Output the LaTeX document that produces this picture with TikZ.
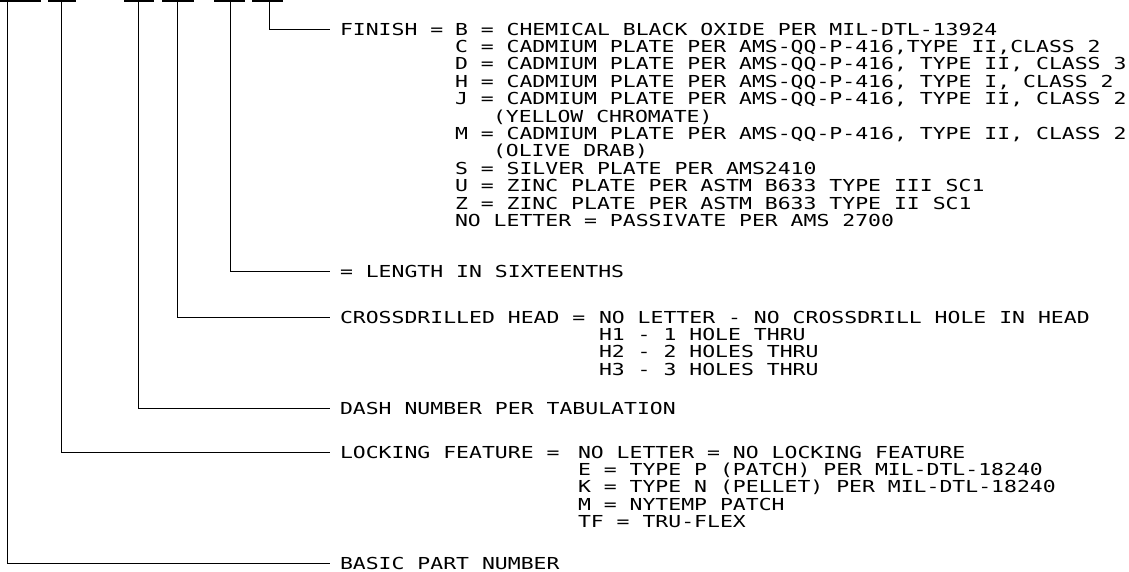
\documentclass[tikz,border=0pt]{standalone}
\usepackage{fontspec}
\newfontfamily\cadfont[FakeStretch=1.3]{DejaVu Sans Mono}

\tikzset{
    part bar/.style = {
        line width=2pt,
    },
    leader/.style = {
        line width=0.8pt,
        shorten >=10pt,
    },
    callout/.style = {
        anchor=west,
        inner sep=0,
        outer sep=0,
        text height=12pt,
        text depth=0pt,
        font=\cadfont\fontsize{16.5}{17.4}\selectfont,
    },
}
\def\rowgap{17.4}
\def\labelx{340}
\def\finx{455}
\def\subx{599}
\def\lockx{578}

\begin{document}
\begin{tikzpicture}[x=1pt, y=-1pt]
    \useasboundingbox (0,0) rectangle (1129,571);

    % part number fields
    \foreach \xa/\xb/\xm [count=\n] in {
        0/41/7,
        48/76/61,
        124/154/138,
        162/194/177,
        214/245/230,
        252/283/269
    } {
        \draw[part bar] (\xa,1) -- (\xb,1);
        \coordinate (f\n) at (\xm,1);
    }

    % finish
    \node[callout] (finish) at (\labelx,29) {FINISH =};
    \node[callout] (fin0) at (\finx,29) {B = CHEMICAL BLACK OXIDE PER MIL-DTL-13924};
    \foreach \xo/\txt [count=\i] in {
        0/{C = CADMIUM PLATE PER AMS-QQ-P-416,TYPE II,CLASS 2},
        0/{D = CADMIUM PLATE PER AMS-QQ-P-416, TYPE II, CLASS 3},
        0/{H = CADMIUM PLATE PER AMS-QQ-P-416, TYPE I, CLASS 2},
        0/{J = CADMIUM PLATE PER AMS-QQ-P-416, TYPE II, CLASS 2},
        38/{(YELLOW CHROMATE)},
        0/{M = CADMIUM PLATE PER AMS-QQ-P-416, TYPE II, CLASS 2},
        38/{(OLIVE DRAB)},
        0/{S = SILVER PLATE PER AMS2410},
        0/{U = ZINC PLATE PER ASTM B633 TYPE III SC1},
        0/{Z = ZINC PLATE PER ASTM B633 TYPE II SC1},
        0/{NO LETTER = PASSIVATE PER AMS 2700}
    } {
        \node[callout] (fin\i) at ({\finx+\xo},{29+\rowgap*\i}) {\txt};
    }

    % length
    \node[callout] (length) at (\labelx,271) {= LENGTH IN SIXTEENTHS};

    % crossdrilled head
    \node[callout] (cross) at (\labelx,317) {CROSSDRILLED HEAD =};
    \node[callout] (cross0) at (\subx,317) {NO LETTER - NO CROSSDRILL HOLE IN HEAD};
    \foreach \txt [count=\i] in {
        H1 - 1 HOLE THRU,
        H2 - 2 HOLES THRU,
        H3 - 3 HOLES THRU
    } {
        \node[callout] (cross\i) at (\subx,{317+\rowgap*\i}) {\txt};
    }

    % dash number
    \node[callout] (dash) at (\labelx,408) {DASH NUMBER PER TABULATION};

    % locking feature
    \node[callout] (locking) at (\labelx,452) {LOCKING FEATURE =};
    \node[callout] (lock0) at (\lockx,452) {NO LETTER = NO LOCKING FEATURE};
    \foreach \txt [count=\i] in {
        E = TYPE P (PATCH) PER MIL-DTL-18240,
        K = TYPE N (PELLET) PER MIL-DTL-18240,
        M = NYTEMP PATCH,
        TF = TRU-FLEX
    } {
        \node[callout] (lock\i) at (\lockx,{452+\rowgap*\i}) {\txt};
    }

    % basic part number
    \node[callout] (basic) at (\labelx,563) {BASIC PART NUMBER};

    % leaders from the fields
    \draw[leader] (f6) |- (finish.west);
    \draw[leader] (f5) |- (length.west);
    \draw[leader] (f4) |- (cross.west);
    \draw[leader] (f3) |- (dash.west);
    \draw[leader] (f2) |- (locking.west);
    \draw[leader] (f1) |- (basic.west);

\end{tikzpicture}
\end{document}
